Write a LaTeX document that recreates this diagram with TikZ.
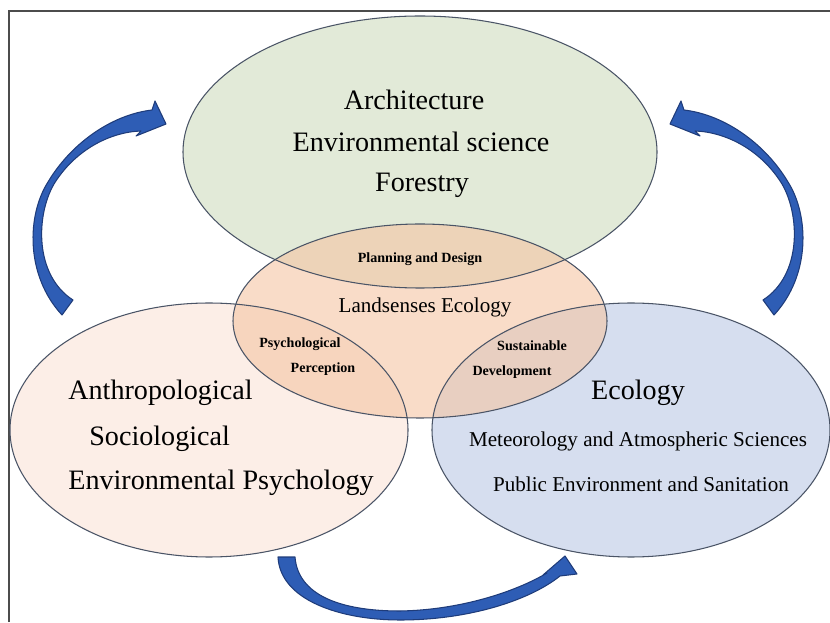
\documentclass[tikz,border=0pt]{standalone}
\usepackage{fontspec}
\setmainfont{Liberation Serif}

\definecolor{greenfield}{HTML}{E2EAD8}
\definecolor{pinkfield}{HTML}{FCEEE7}
\definecolor{bluefield}{HTML}{D6DEEF}
\definecolor{peachfield}{HTML}{F5C5A3}
\definecolor{fieldline}{HTML}{4A5466}
\definecolor{arrowblue}{HTML}{2E5DB5}
\definecolor{arrowline}{HTML}{1F3C7A}

\tikzset{
  fieldedge/.style={draw=fieldline, line width=0.6pt},
  bigtext/.style={font=\fontsize{16}{19}\selectfont, inner sep=0pt},
  midtext/.style={font=\fontsize{12}{14}\selectfont, inner sep=0pt},
  smalltext/.style={font=\fontsize{8}{10}\selectfont\bfseries, inner sep=0pt},
  swoop/.style={fill=arrowblue, draw=arrowline, line width=0.6pt, line join=round}
}

\begin{document}
\begin{tikzpicture}
		\useasboundingbox (0,0) rectangle (16.6,12.44);
		%frame
		\draw[line width=0.8pt, black!70] (0.18,0) -- (0.18,12.22) -- (16.6,12.22);

		%fields
		\fill[greenfield] (8.4,9.4) ellipse (4.74cm and 2.72cm);
		\fill[pinkfield] (4.18,3.84) ellipse (3.98cm and 2.54cm);
		\fill[bluefield] (12.62,3.84) ellipse (3.98cm and 2.54cm);
		\fill[peachfield, fill opacity=0.6] (8.4,6.02) ellipse (3.74cm and 1.94cm);
		\draw[fieldedge] (8.4,9.4) ellipse (4.74cm and 2.72cm);
		\draw[fieldedge] (4.18,3.84) ellipse (3.98cm and 2.54cm);
		\draw[fieldedge] (12.62,3.84) ellipse (3.98cm and 2.54cm);
		\draw[fieldedge] (8.4,6.02) ellipse (3.74cm and 1.94cm);

		%top field
		\node[bigtext, anchor=base] (arch) at (8.28,10.24) {Architecture};
		\node[bigtext, anchor=base] (envsci) at (8.42,9.40) {Environmental science};
		\node[bigtext, anchor=base] (forestry) at (8.44,8.60) {Forestry};
		%middle field
		\node[smalltext, anchor=base] (plan) at (8.4,7.18) {Planning and Design};
		\node[midtext, anchor=base] (land) at (8.5,6.18) {Landsenses Ecology};
		\node[smalltext, anchor=base] (psy) at (6.0,5.48) {Psychological};
		\node[smalltext, anchor=base] (perc) at (6.46,4.98) {Perception};
		\node[smalltext, anchor=base] (sust) at (10.64,5.42) {Sustainable};
		\node[smalltext, anchor=base] (devel) at (10.24,4.92) {Development};
		%left field
		\node[bigtext, anchor=base west] (anthro) at (1.36,4.44) {Anthropological};
		\node[bigtext, anchor=base west] (socio) at (1.78,3.54) {Sociological};
		\node[bigtext, anchor=base west] (envpsy) at (1.36,2.64) {Environmental Psychology};
		%right field
		\node[bigtext, anchor=base] (ecol) at (12.76,4.44) {Ecology};
		\node[midtext, anchor=base] (meteo) at (12.76,3.50) {Meteorology and Atmospheric Sciences};
		\node[midtext, anchor=base] (public) at (12.82,2.62) {Public Environment and Sanitation};

		%arrows
		\draw[swoop] (1.24,6.14) .. controls (0.5,6.94) and (0.54,8.14) .. (0.96,8.8)
			.. controls (1.4,9.54) and (2.2,10.14) .. (3.04,10.24)
			-- (3.1,10.42) -- (3.32,9.96) -- (2.72,9.72) -- (2.82,9.82)
			.. controls (2.2,9.8) and (1.5,9.44) .. (1.08,8.76)
			.. controls (0.72,8.14) and (0.68,6.94) .. (1.46,6.44) -- cycle;
		\draw[swoop] (15.48,6.14) .. controls (16.22,6.94) and (16.18,8.14) .. (15.76,8.8)
			.. controls (15.32,9.54) and (14.52,10.14) .. (13.68,10.24)
			-- (13.62,10.42) -- (13.4,9.96) -- (14.0,9.72) -- (13.9,9.82)
			.. controls (14.52,9.8) and (15.22,9.44) .. (15.64,8.76)
			.. controls (16.0,8.14) and (16.04,6.94) .. (15.26,6.44) -- cycle;
		\draw[swoop] (5.56,1.3) .. controls (5.6,0.44) and (6.8,0.04) .. (8.0,0.04)
			.. controls (9.4,0.04) and (10.6,0.44) .. (11.2,0.92)
			-- (11.54,0.96) -- (11.3,1.32) -- (10.86,0.94) -- (10.94,0.98)
			.. controls (10.3,0.6) and (9.2,0.24) .. (8.0,0.22)
			.. controls (6.8,0.22) and (5.96,0.54) .. (5.9,1.3) -- cycle;
	\end{tikzpicture}
\end{document}
